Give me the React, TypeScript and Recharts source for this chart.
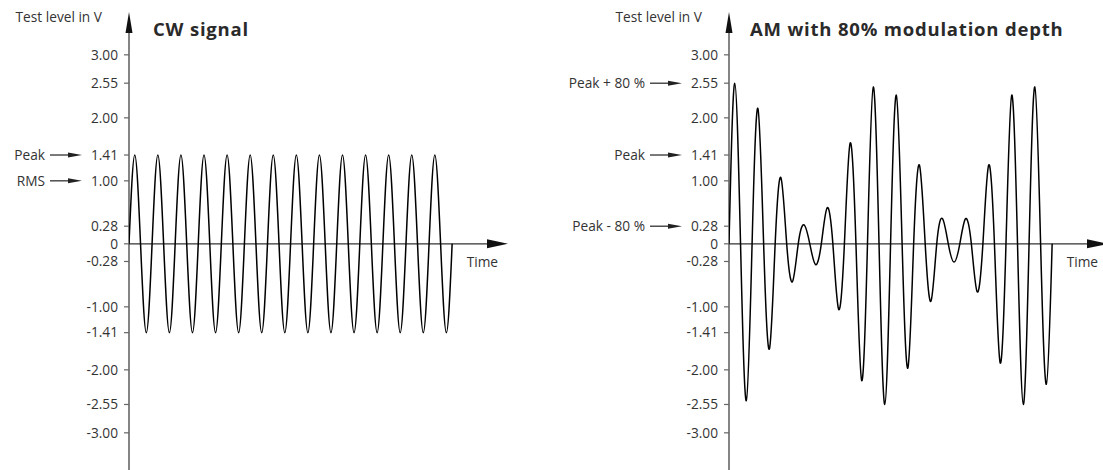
import { LineChart, Line, XAxis, YAxis, ReferenceLine } from "recharts";

// one entry per carrier cycle (14 cycles shown in each panel)
const cwPeaks = [1.41, 1.41, 1.41, 1.41, 1.41, 1.41, 1.41, 1.41, 1.41, 1.41, 1.41, 1.41, 1.41, 1.41];
const cwTroughs = [-1.41, -1.41, -1.41, -1.41, -1.41, -1.41, -1.41, -1.41, -1.41, -1.41, -1.41, -1.41, -1.41, -1.41];

const amPeaks = [2.55, 2.15, 1.05, 0.3, 0.57, 1.6, 2.49, 2.36, 1.25, 0.4, 0.4, 1.25, 2.36, 2.49];
const amTroughs = [-2.49, -1.67, -0.6, -0.33, -1.04, -2.17, -2.55, -1.97, -0.91, -0.29, -0.76, -1.89, -2.55, -2.23];

const yTicks = [3, 2.55, 2, 1.41, 1, 0.28, 0, -0.28, -1, -1.41, -2, -2.55, -3];
const yTickLabels = ["3.00", "2.55", "2.00", "1.41", "1.00", "0.28", "0", "-0.28", "-1.00", "-1.41", "-2.00", "-2.55", "-3.00"];

const cwMarkers = [
  { value: 1.41, text: "Peak" },
  { value: 1, text: "RMS" },
];
const amMarkers = [
  { value: 2.55, text: "Peak + 80 %" },
  { value: 1.41, text: "Peak" },
  { value: 0.28, text: "Peak - 80 %" },
];

const yDomain = [-3.59, 3.68];
const xDomain = [0, 16.42];

const FONT = "'Open Sans', sans-serif";
const TEXT = "#333";
const SMALL = 13.7;

// zero, peak, zero, trough for every cycle
const buildWave = (peaks: number[], troughs: number[]) => {
  const rows: { t: number; v: number }[] = [];
  peaks.forEach((p, i) => {
    rows.push({ t: i, v: 0 }, { t: i + 0.25, v: p }, { t: i + 0.5, v: 0 }, { t: i + 0.75, v: troughs[i] });
  });
  rows.push({ t: peaks.length, v: 0 });
  return rows;
};

const ValueTick = (props: any) => {
  const { x, y, payload, markers } = props;
  const label = yTickLabels[yTicks.indexOf(payload.value)];
  const mark = markers.find((m: any) => m.value === payload.value);
  return (
    <g>
      <text x={x} y={y} dy={4.8} textAnchor="end" fontSize={SMALL} fill={TEXT} fontFamily={FONT}>
        {label}
      </text>
      {mark && (
        <g>
          <text x={x - 73} y={y} dy={4.8} textAnchor="end" fontSize={SMALL} fill={TEXT} fontFamily={FONT}>
            {mark.text}
          </text>
          <line x1={x - 68} x2={x - 46} y1={y} y2={y} stroke="#222" strokeWidth={1.2} />
          <polygon points={`${x - 50},${y - 2.5} ${x - 36},${y} ${x - 50},${y + 2.5}`} fill="#222" />
        </g>
      )}
    </g>
  );
};

const LevelAxis = (props: any) => {
  const { x1, y1, y2, title, titleOffset } = props;
  const top = Math.min(y1, y2);
  const bottom = Math.max(y1, y2);
  return (
    <g>
      <line x1={x1} x2={x1} y1={top + 15} y2={bottom} stroke="#666" strokeWidth={1.6} />
      <polygon points={`${x1 - 3.5},${top + 21} ${x1},${top} ${x1 + 3.5},${top + 21}`} fill="#111" />
      <text x={x1 - 27} y={top + 9.5} textAnchor="end" fontSize={SMALL} fill={TEXT} fontFamily={FONT}>
        Test level in V
      </text>
      <text x={x1 + titleOffset} y={top + 24} fontSize={18.5} fontWeight={700} letterSpacing={0.8} fill="#2a2a2a" fontFamily={FONT}>
        {title}
      </text>
    </g>
  );
};

const TimeAxis = (props: any) => {
  const { x1, x2, y1 } = props;
  const left = Math.min(x1, x2);
  const right = Math.max(x1, x2);
  return (
    <g>
      <line x1={left} x2={right - 18} y1={y1} y2={y1} stroke="#333" strokeWidth={1.3} />
      <polygon points={`${right - 21},${y1 - 4.5} ${right},${y1} ${right - 21},${y1 + 4.5}`} fill="#111" />
      <text x={right - 10} y={y1 + 23} textAnchor="end" fontSize={SMALL} fill={TEXT} fontFamily={FONT}>
        Time
      </text>
    </g>
  );
};

const SignalPanel = ({ left, axisWidth, data, markers, title, titleOffset }: any) => (
  <div style={{ position: "absolute", left, top: 0 }}>
    <LineChart
      width={axisWidth + 379 + 4}
      height={470}
      data={data}
      margin={{ top: 12, right: 4, bottom: 0, left: 0 }}
      style={{ fontFamily: FONT }}
    >
      <XAxis dataKey="t" type="number" domain={xDomain} allowDataOverflow hide />
      <YAxis
        type="number"
        domain={yDomain}
        ticks={yTicks}
        interval={0}
        width={axisWidth}
        axisLine={false}
        tickLine={{ stroke: "#666", strokeWidth: 1.2 }}
        tickSize={5}
        tickMargin={6}
        tick={(p: any) => <ValueTick {...p} markers={markers} />}
        allowDataOverflow
      />
      <ReferenceLine x={0} shape={(p: any) => <LevelAxis {...p} title={title} titleOffset={titleOffset} />} />
      <ReferenceLine y={0} shape={(p: any) => <TimeAxis {...p} />} />
      <Line type="natural" dataKey="v" stroke="#000" strokeWidth={1.5} dot={false} isAnimationActive={false} />
    </LineChart>
  </div>
);

export default function App() {
  return (
    <div
      style={{
        position: "absolute",
        left: 0,
        top: 0,
        width: 1103,
        height: 470,
        overflow: "hidden",
        background: "#fff",
      }}
    >
      <SignalPanel
        left={0}
        axisWidth={129}
        data={buildWave(cwPeaks, cwTroughs)}
        markers={cwMarkers}
        title="CW signal"
        titleOffset={24}
      />
      <SignalPanel
        left={550}
        axisWidth={179}
        data={buildWave(amPeaks, amTroughs)}
        markers={amMarkers}
        title="AM with 80% modulation depth"
        titleOffset={21}
      />
    </div>
  );
}
